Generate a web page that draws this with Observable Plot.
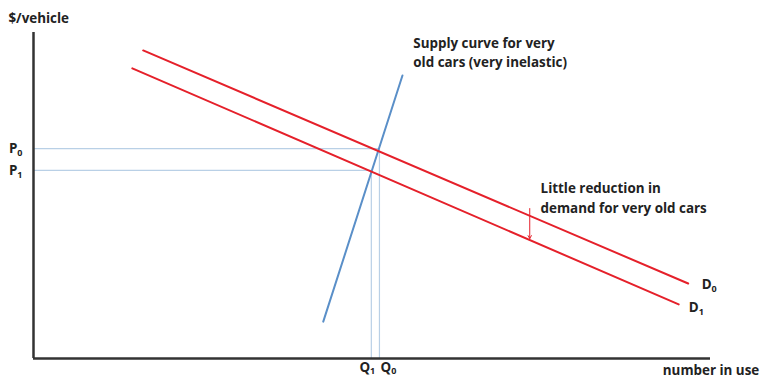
<!DOCTYPE html>
<html><head><meta charset="utf-8">
<script src="https://cdn.jsdelivr.net/npm/d3@7"></script>
<script src="https://cdn.jsdelivr.net/npm/@observablehq/plot@0.6"></script>
<style>body{margin:0;background:#fff;} #chart svg{display:block;}</style>
</head><body><div id="chart"></div>
<script>
// Curves (quantity = number in use, price = $/vehicle), in arbitrary units 0–100
const demand0 = [{q: 16.2, p: 94.5}, {q: 96.7, p: 23.0}];
const demand1 = [{q: 14.6, p: 89.0}, {q: 95.3, p: 16.6}];
const supply  = [{q: 42.8, p: 11.3}, {q: 54.5, p: 86.8}];
// Equilibria
const equilibria = [{q: 51.1, p: 64.4}, {q: 49.9, p: 57.7}];
const priceLabels = ["P_0", "P_1"];
const quantityLabels = ["Q_0", "Q_1"];
// Shift arrow
const shiftArrow = [{q: 73.3, from: 46.0, to: 36.8}];
// Text annotations (one entry per line)
const curveLabels = [{q: 98.7, p: 22.6, text: "D_0"}, {q: 96.8, p: 15.6, text: "D_1"}];
const supplyNote = [
  {q: 56.1, p: 96.6, text: "Supply curve for very"},
  {q: 56.1, p: 90.8, text: "old cars (very inelastic)"}
];
const demandNote = [
  {q: 74.9, p: 52.1, text: "Little reduction in"},
  {q: 74.9, p: 45.9, text: "demand for very old cars"}
];

const red = "#e5202a", blue = "#5a8fc8", guide = "#b9d0e6", axisCol = "#333";
const font = "'Open Sans', Lato, sans-serif";
const fs = 13.4;

const chart = Plot.plot({
  width: 764, height: 379,
  marginLeft: 33, marginRight: 54, marginTop: 32, marginBottom: 21,
  x: {domain: [0, 100], axis: null},
  y: {domain: [0, 100], axis: null},
  style: {fontFamily: font, fontWeight: "bold", fontSize: fs + "px", color: "#222", background: "#fff"},
  marks: [
    Plot.ruleY(equilibria, {y: "p", x1: 0, x2: "q", stroke: guide, strokeWidth: 1.2}),
    Plot.ruleX(equilibria, {x: "q", y1: 0, y2: "p", stroke: guide, strokeWidth: 1.2}),
    Plot.line(supply, {x: "q", y: "p", stroke: blue, strokeWidth: 2}),
    Plot.line(demand0, {x: "q", y: "p", stroke: red, strokeWidth: 2}),
    Plot.line(demand1, {x: "q", y: "p", stroke: red, strokeWidth: 2}),
    Plot.arrow(shiftArrow, {x1: "q", x2: "q", y1: "from", y2: "to", stroke: red, strokeWidth: 1, headLength: 5}),
    Plot.ruleX([0], {y1: 0, y2: 100, stroke: axisCol, strokeWidth: 2.5}),
    Plot.ruleY([0], {x1: 0, x2: 100, stroke: axisCol, strokeWidth: 2.5}),
    Plot.axisY(equilibria.map(d => d.p), {tickSize: 0, tickPadding: 11, tickFormat: (d, i) => priceLabels[i], fontSize: fs, fontWeight: "bold", fill: "#222"}),
    Plot.text([equilibria[1]], {x: "q", y: 0, text: () => quantityLabels[1], dy: 9.5, dx: -4, fontSize: fs, fontWeight: "bold", fill: "#222"}),
    Plot.text([equilibria[0]], {x: "q", y: 0, text: () => quantityLabels[0], dy: 9.5, dx: 9, fontSize: fs, fontWeight: "bold", fill: "#222"}),
    Plot.text(["number in use"], {x: 107.2, y: 0, text: d => d, dy: 12, textAnchor: "end", fontSize: fs, fontWeight: "bold", fill: "#222"}),
    Plot.text(["$/vehicle"], {x: -3.7, y: 104.3, text: d => d, textAnchor: "start", fontSize: fs, fontWeight: "bold", fill: "#222"}),
    Plot.text(curveLabels, {x: "q", y: "p", text: "text", textAnchor: "start", fontSize: fs, fontWeight: "bold", fill: "#222"}),
    Plot.text(supplyNote, {x: "q", y: "p", text: "text", textAnchor: "start", fontSize: fs, fontWeight: "bold", fill: "#222"}),
    Plot.text(demandNote, {x: "q", y: "p", text: "text", textAnchor: "start", fontSize: fs, fontWeight: "bold", fill: "#222"})
  ]
});

// Render "X_n" as X with subscript n
d3.select(chart).selectAll("text").each(function() {
  const el = d3.select(this);
  if (el.selectAll("tspan").size() > 0) return;
  const t = el.text();
  const m = /^([A-Z])_(\d)$/.exec(t);
  if (!m) return;
  el.text(m[1]);
  el.append("tspan").attr("font-size", "9px").attr("dy", m[1] === "Q" ? "2" : "3").text(m[2]);
});

document.getElementById("chart").append(chart);
</script>
</body></html>
